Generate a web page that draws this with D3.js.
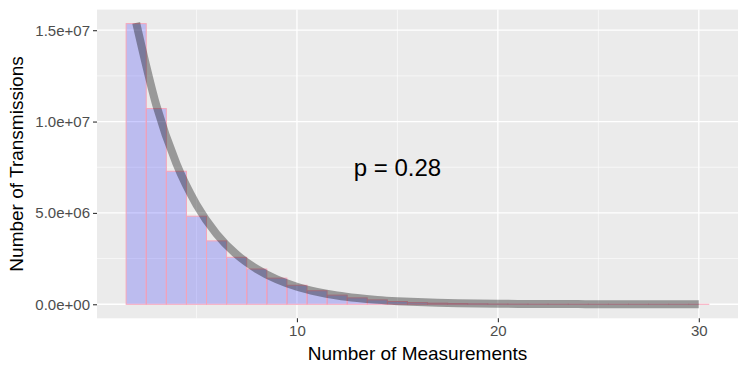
<!DOCTYPE html>
<html>
<head>
<meta charset="utf-8">
<script src="https://d3js.org/d3.v7.min.js"></script>
<style>
body { margin: 0; background: #fff; }
text { font-family: "Liberation Sans", Arial, sans-serif; }
</style>
</head>
<body>
<div id="canvas"></div>
<script>
// counts per number of measurements (2..30)
var measurements = [2, 3, 4, 5, 6, 7, 8, 9, 10, 11, 12, 13, 14, 15, 16,
                    17, 18, 19, 20, 21, 22, 23, 24, 25, 26, 27, 28, 29, 30];
var transmissions = [15360000, 10710000, 7280000, 4820000, 3470000, 2570000, 1930000,
                     1430000, 1040000, 740000, 500000, 350000, 240000, 150000, 90000,
                     60000, 40000, 25000, 15000, 10000, 6000, 4000, 3000, 2000,
                     1000, 1000, 500, 300, 200];
// fitted curve
var fitted = [15400000, 10900000, 7700000, 5450000, 3850000, 2720000, 1930000,
              1360000, 960000, 680000, 480000, 340000, 240000, 170000, 120000,
              85000, 60000, 42000, 30000, 21000, 15000, 11000, 8000, 5000,
              4000, 3000, 2000, 1400, 1000];
var xTicks = [10, 20, 30];
var yTicks = [0, 5e6, 1e7, 1.5e7];
var yTickLabels = ["0.0e+00", "5.0e+06", "1.0e+07", "1.5e+07"];
var annotation = "p = 0.28";

var W = 747, H = 374;
var panel = {left: 97, right: 738, top: 9.6, bottom: 318.3};

var svg = d3.select("#canvas").append("svg")
            .attr("width", W).attr("height", H);

var xLo = d3.min(measurements) - 0.5, xHi = d3.max(measurements) + 0.5;
var xPad = (xHi - xLo) * 0.05;
var x = d3.scaleLinear()
          .domain([xLo - xPad, xHi + xPad])
          .range([panel.left, panel.right]);

var yMax = d3.max(transmissions);
var y = d3.scaleLinear()
          .domain([-yMax * 0.05, yMax * 1.05])
          .range([panel.bottom, panel.top]);

// panel background
svg.append("rect")
   .attr("x", panel.left).attr("y", panel.top)
   .attr("width", panel.right - panel.left)
   .attr("height", panel.bottom - panel.top)
   .attr("fill", "#EBEBEB");

var grid = svg.append("g");
// minor grid
[5, 15, 25].forEach(function(v) {
   grid.append("line")
       .attr("x1", x(v)).attr("x2", x(v))
       .attr("y1", panel.top).attr("y2", panel.bottom)
       .attr("stroke", "#fff").attr("stroke-width", 0.6);
});
[2.5e6, 7.5e6, 1.25e7].forEach(function(v) {
   grid.append("line")
       .attr("x1", panel.left).attr("x2", panel.right)
       .attr("y1", y(v)).attr("y2", y(v))
       .attr("stroke", "#fff").attr("stroke-width", 0.6);
});
// major grid
xTicks.forEach(function(v) {
   grid.append("line")
       .attr("x1", x(v)).attr("x2", x(v))
       .attr("y1", panel.top).attr("y2", panel.bottom)
       .attr("stroke", "#fff").attr("stroke-width", 1.3);
});
yTicks.forEach(function(v) {
   grid.append("line")
       .attr("x1", panel.left).attr("x2", panel.right)
       .attr("y1", y(v)).attr("y2", y(v))
       .attr("stroke", "#fff").attr("stroke-width", 1.3);
});

// bars
svg.append("g")
   .selectAll("rect")
   .data(measurements)
   .enter()
   .append("rect")
   .attr("x", function(d) { return x(d - 0.5); })
   .attr("width", function(d) { return x(d + 0.5) - x(d - 0.5); })
   .attr("y", function(d, i) { return y(transmissions[i]); })
   .attr("height", function(d, i) { return y(0) - y(transmissions[i]); })
   .attr("fill", "rgba(0,0,255,0.2)")
   .attr("stroke", "#F6A5B9")
   .attr("stroke-width", 1);

// fitted curve
var line = d3.line()
             .x(function(d, i) { return x(measurements[i]); })
             .y(function(d) { return y(d); })
             .curve(d3.curveMonotoneX);

svg.append("path")
   .datum(fitted)
   .attr("d", line)
   .attr("fill", "none")
   .attr("stroke", "rgba(0,0,0,0.35)")
   .attr("stroke-width", 8);

// annotation
svg.append("text")
   .attr("x", x(15)).attr("y", y(7.5e6) + 8.5)
   .attr("text-anchor", "middle")
   .style("font-size", "24px")
   .attr("fill", "#000")
   .text(annotation);

// x axis
var xAxis = d3.axisBottom(x).tickValues(xTicks).tickSize(4).tickPadding(3);
var gx = svg.append("g")
            .attr("transform", "translate(0," + panel.bottom + ")")
            .call(xAxis);
gx.select(".domain").remove();
gx.selectAll("line").attr("stroke", "#333").attr("stroke-width", 1.1);
gx.selectAll("text").attr("fill", "#4D4D4D")
  .style("font-size", "15px").style("font-family", "Liberation Sans, Arial, sans-serif");

// y axis
var yAxis = d3.axisLeft(y).tickValues(yTicks).tickSize(4).tickPadding(3)
              .tickFormat(function(d, i) { return yTickLabels[i]; });
var gy = svg.append("g")
            .attr("transform", "translate(" + panel.left + ",0)")
            .call(yAxis);
gy.select(".domain").remove();
gy.selectAll("line").attr("stroke", "#333").attr("stroke-width", 1.1);
gy.selectAll("text").attr("fill", "#4D4D4D")
  .style("font-size", "15px").style("font-family", "Liberation Sans, Arial, sans-serif");

// axis titles
svg.append("text")
   .attr("x", (panel.left + panel.right) / 2).attr("y", 360)
   .attr("text-anchor", "middle")
   .style("font-size", "19px")
   .text("Number of Measurements");

svg.append("text")
   .attr("transform", "translate(23," + ((panel.top + panel.bottom) / 2) + ") rotate(-90)")
   .attr("text-anchor", "middle")
   .style("font-size", "19px")
   .text("Number of Transmissions");
</script>
</body>
</html>
